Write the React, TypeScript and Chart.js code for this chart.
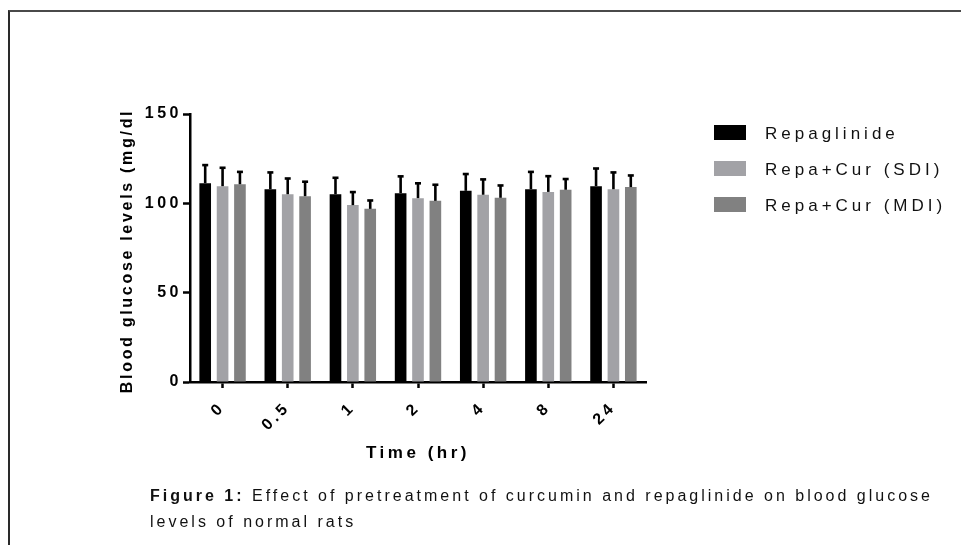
import React, { useEffect, useRef } from 'react';
import { Chart, registerables } from 'chart.js';

Chart.register(...registerables);

// ---- data ----
const timeLabels = ['0', '0.5', '1', '2', '4', '8', '24'];
const seriesNames = ['Repaglinide', 'Repa+Cur (SDI)', 'Repa+Cur (MDI)'];
const repaglinide = [111.3, 107.9, 105.1, 105.7, 107.0, 107.9, 109.6];
const repaglinideErr = [10.1, 9.4, 9.2, 9.4, 9.4, 9.7, 9.9];
const repaCurSDI = [109.6, 105.1, 99.0, 102.9, 104.8, 106.4, 107.9];
const repaCurSDIErr = [10.3, 8.8, 7.3, 8.3, 8.6, 8.8, 9.4];
const repaCurMDI = [110.7, 104.0, 96.9, 101.4, 103.1, 107.6, 109.1];
const repaCurMDIErr = [6.9, 8.1, 4.7, 9.0, 6.9, 6.0, 6.5];
const seriesColors = ['#000000', '#a2a2a6', '#818181'];
const yMin = 0;
const yMax = 150;
const yStep = 50;
const yTitle = 'Blood glucose levels (mg/dl';
const xTitle = 'Time (hr)';
const captionBold = 'Figure 1:';
const captionLine1 = ' Effect of pretreatment of curcumin and repaglinide on blood glucose';
const captionLine2 = 'levels of normal rats';

const FONT = '"Liberation Sans", Arial, Helvetica, sans-serif';

const spacingPlugin = {
  id: 'letterSpacing',
  beforeUpdate(chart: any) {
    chart.ctx.letterSpacing = '3.5px';
  },
  beforeDraw(chart: any) {
    chart.ctx.letterSpacing = '3.5px';
  },
};

const errorBarPlugin = {
  id: 'errorBars',
  afterDatasetsDraw(chart: any) {
    const ctx = chart.ctx;
    const yScale = chart.scales.y;
    chart.data.datasets.forEach((ds: any, i: number) => {
      const meta = chart.getDatasetMeta(i);
      meta.data.forEach((bar: any, j: number) => {
        const v = ds.data[j];
        const e = ds.errors[j];
        const top = yScale.getPixelForValue(v + e);
        ctx.save();
        ctx.strokeStyle = '#000';
        ctx.lineWidth = 2.6;
        ctx.beginPath();
        ctx.moveTo(bar.x, bar.y);
        ctx.lineTo(bar.x, top);
        ctx.stroke();
        ctx.beginPath();
        ctx.moveTo(bar.x - 3, top);
        ctx.lineTo(bar.x + 3, top);
        ctx.stroke();
        ctx.restore();
      });
    });
  },
};

const yTitlePlugin = {
  id: 'yTitle',
  afterDraw(chart: any) {
    const ctx = chart.ctx;
    const area = chart.chartArea;
    ctx.save();
    ctx.letterSpacing = '2.7px';
    ctx.translate(area.left - 62, (area.top + area.bottom) / 2 + 3);
    ctx.rotate(-Math.PI / 2);
    ctx.font = `bold 16px ${FONT}`;
    ctx.fillStyle = '#000';
    ctx.textAlign = 'center';
    ctx.textBaseline = 'middle';
    ctx.fillText(yTitle, 0, 0);
    ctx.restore();
  },
};

const legendPlugin = {
  id: 'customLegend',
  afterDraw(chart: any) {
    const ctx = chart.ctx;
    const area = chart.chartArea;
    const x0 = area.right + 68;
    const y0 = area.top + 11;
    chart.data.datasets.forEach((ds: any, i: number) => {
      const y = y0 + i * 36;
      ctx.save();
      ctx.fillStyle = ds.backgroundColor;
      ctx.fillRect(x0, y, 32, 15);
      ctx.letterSpacing = '4px';
      ctx.font = `17px ${FONT}`;
      ctx.fillStyle = '#111';
      ctx.textAlign = 'left';
      ctx.textBaseline = 'middle';
      ctx.fillText(ds.label, x0 + 51, y + 9);
      ctx.restore();
    });
  },
};

export default function App() {
  const canvasRef = useRef<HTMLCanvasElement | null>(null);

  useEffect(() => {
    const canvas = canvasRef.current;
    if (!canvas) return;
    const values = [repaglinide, repaCurSDI, repaCurMDI];
    const errs = [repaglinideErr, repaCurSDIErr, repaCurMDIErr];
    const chart = new Chart(canvas, {
      type: 'bar',
      data: {
        labels: timeLabels,
        datasets: seriesNames.map((name, i) => ({
          label: name,
          data: values[i],
          errors: errs[i],
          backgroundColor: seriesColors[i],
          borderWidth: 0,
          categoryPercentage: 0.8,
          barPercentage: 0.67,
        })) as any,
      },
      options: {
        responsive: false,
        animation: false,
        devicePixelRatio: 1,
        layout: { padding: { left: 119, top: 114, right: 315, bottom: 81 } },
        plugins: {
          legend: { display: false },
          tooltip: { enabled: false },
          title: { display: false },
        },
        scales: {
          x: {
            type: 'category',
            offset: true,
            afterFit: (s: any) => {
              s.height = 82;
            },
            grid: {
              offset: false,
              drawOnChartArea: false,
              drawTicks: true,
              tickLength: 6,
              tickWidth: 2.5,
              tickColor: '#000',
            },
            border: { display: true, color: '#000', width: 2.5 },
            ticks: {
              color: '#000',
              minRotation: 45,
              maxRotation: 45,
              padding: 10,
              font: { family: FONT, size: 16, weight: 'bold' },
            },
            title: {
              display: true,
              text: xTitle,
              color: '#000',
              padding: 0,
              font: { family: FONT, size: 17, weight: 'bold' },
            },
          },
          y: {
            min: yMin,
            max: yMax,
            afterFit: (s: any) => {
              s.width = 71;
            },
            grid: {
              drawOnChartArea: false,
              drawTicks: true,
              tickLength: 7,
              tickWidth: 2.5,
              tickColor: '#000',
            },
            border: { display: true, color: '#000', width: 2.5 },
            ticks: {
              stepSize: yStep,
              color: '#000',
              padding: 1,
              font: { family: FONT, size: 16, weight: 'bold' },
            },
          },
        },
      } as any,
      plugins: [spacingPlugin, errorBarPlugin, yTitlePlugin, legendPlugin],
    });
    return () => chart.destroy();
  }, []);

  return (
    <div
      style={{
        position: 'fixed',
        left: 0,
        top: 0,
        width: 961,
        height: 545,
        background: '#fff',
        overflow: 'hidden',
      }}
    >
      <div
        style={{
          position: 'absolute',
          left: 8,
          top: 10,
          width: 1000,
          height: 600,
          borderLeft: '2px solid #2a2a2a',
          borderTop: '2px solid #4a4a4a',
        }}
      />
      <canvas
        ref={canvasRef}
        width={961}
        height={545}
        style={{ position: 'absolute', left: 0, top: 0, width: 961, height: 545 }}
      />
      <div
        style={{
          position: 'absolute',
          left: 150,
          top: 483,
          fontFamily: FONT,
          fontSize: 16,
          lineHeight: '26px',
          letterSpacing: '3px',
          color: '#111',
          whiteSpace: 'nowrap',
        }}
      >
        <b>{captionBold}</b>
        {captionLine1}
        <br />
        {captionLine2}
      </div>
    </div>
  );
}
